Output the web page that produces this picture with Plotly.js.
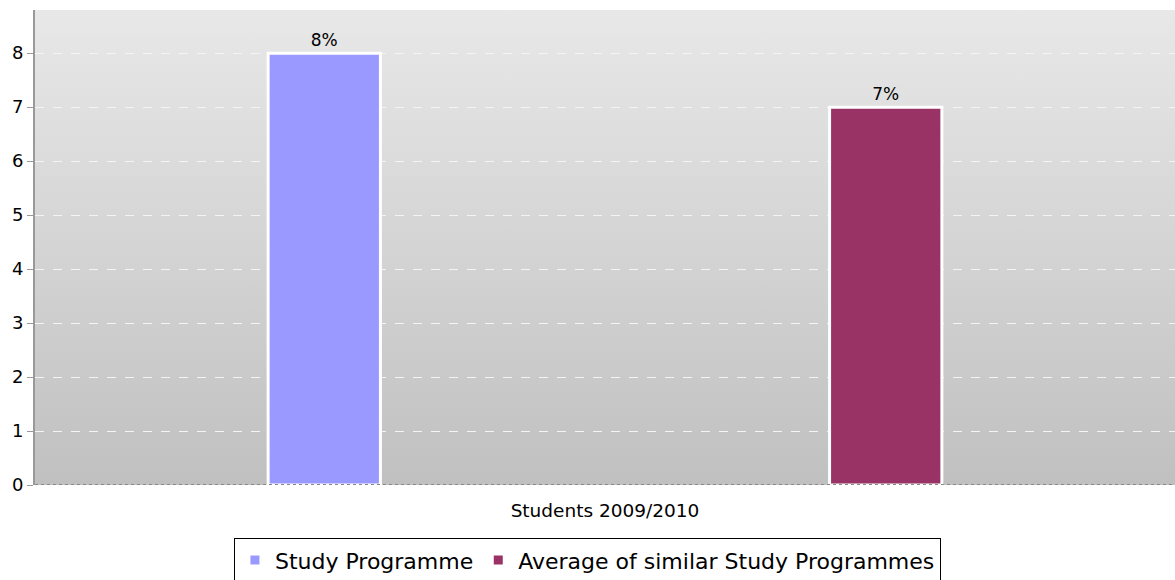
<!DOCTYPE html>
<html>
<head>
<meta charset="utf-8">
<script src="https://cdn.plot.ly/plotly-3.0.1.min.js"></script>
<style>
html,body{margin:0;padding:0;background:#fff;}
#chart{width:1175px;height:580px;}
</style>
</head>
<body>
<div id="chart"></div>
<script>
const categories = ['Students 2009/2010'];
const seriesNames = ['Study Programme', 'Average of similar Study Programmes'];
const studyProgramme = [8];
const averageSimilar = [7];
const seriesColors = ['#9999ff', '#993366'];
const yTicks = [0, 1, 2, 3, 4, 5, 6, 7, 8];

const font = 'DejaVu Sans, Verdana, sans-serif';

function barTrace(name, values, color) {
  return {
    type: 'bar',
    name: name,
    x: categories,
    y: values,
    text: values.map(v => v + '%'),
    textposition: 'outside',
    cliponaxis: false,
    textfont: {family: font, size: 17, color: '#000'},
    marker: {color: color, line: {color: '#ffffff', width: 3}},
    hoverinfo: 'x+y'
  };
}

const data = [
  barTrace(seriesNames[0], studyProgramme, seriesColors[0]),
  barTrace(seriesNames[1], averageSimilar, seriesColors[1])
];

const gradSvg = '<svg xmlns="http://www.w3.org/2000/svg" width="10" height="100" preserveAspectRatio="none">' +
  '<defs><linearGradient id="g" x1="0" y1="0" x2="0" y2="1">' +
  '<stop offset="0" stop-color="#e8e8e8"/><stop offset="1" stop-color="#c0c0c0"/>' +
  '</linearGradient></defs><rect width="10" height="100" fill="url(#g)"/></svg>';
const gradUri = 'data:image/svg+xml;charset=utf-8,' + encodeURIComponent(gradSvg);

const layout = {
  width: 1175,
  height: 580,
  margin: {l: 35, r: 0, t: 10, b: 95, pad: 0, autoexpand: false},
  paper_bgcolor: '#ffffff',
  plot_bgcolor: 'rgba(0,0,0,0)',
  barmode: 'group',
  bargap: 0.015,
  bargroupgap: 0.8,
  font: {family: font, size: 16, color: '#000'},
  showlegend: true,
  legend: {
    orientation: 'h',
    x: 0.4846, xanchor: 'center',
    y: -0.112, yanchor: 'top',
    bgcolor: '#ffffff',
    bordercolor: '#000000',
    borderwidth: 1,
    font: {family: font, size: 22, color: '#000'},
    itemwidth: 30,
    traceorder: 'normal'
  },
  xaxis: {
    type: 'category',
    showgrid: false,
    showline: false,
    zeroline: false,
    ticks: '',
    ticklabelstandoff: 12,
    tickfont: {family: font, size: 18.5, color: '#000'},
    automargin: false
  },
  yaxis: {
    range: [0, 8.8],
    tickvals: yTicks,
    ticktext: yTicks.map(String),
    showgrid: true,
    gridcolor: '#f4f4f4',
    griddash: 'dash',
    gridwidth: 1,
    zeroline: false,
    showline: true,
    linecolor: '#999999',
    linewidth: 2,
    ticks: 'outside',
    ticklen: 6,
    tickcolor: '#999999',
    tickfont: {family: font, size: 18, color: '#000'},
    automargin: false
  },
  images: [{
    source: gradUri,
    xref: 'paper', yref: 'paper',
    x: 0, y: 1, sizex: 1, sizey: 1,
    xanchor: 'left', yanchor: 'top',
    sizing: 'stretch',
    layer: 'below'
  }],
  shapes: [{
    type: 'line', xref: 'paper', yref: 'y',
    x0: 0, x1: 1, y0: 0, y1: 0,
    line: {color: '#888888', width: 2, dash: 'dot'}
  }]
};

Plotly.newPlot('chart', data, layout, {displayModeBar: false, staticPlot: true});
</script>
</body>
</html>
